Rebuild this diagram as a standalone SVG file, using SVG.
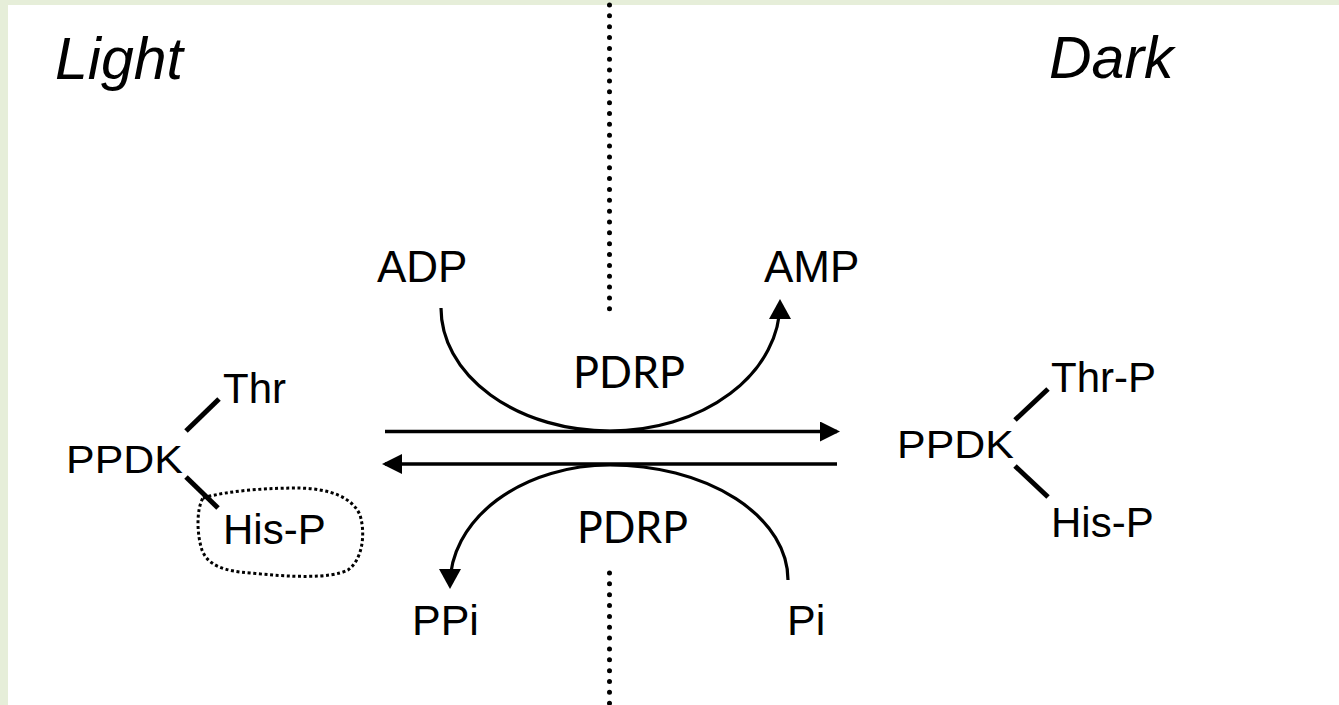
<svg xmlns="http://www.w3.org/2000/svg" width="1339" height="705" viewBox="0 0 1339 705">
<style>
.t{font-family:"Liberation Sans",Arial,sans-serif;fill:#000}
.it{font-family:"Liberation Sans",Arial,sans-serif;font-style:italic;font-size:59px;fill:#000}
.e{font-family:Lato,"Open Sans",sans-serif;font-size:45px;fill:#000}
.bond{stroke:#000;stroke-width:5;fill:none}
.ln{stroke:#000;stroke-width:3.6;fill:none}
.arc{stroke:#000;stroke-width:3.2;fill:none}
.dot{stroke:#000;stroke-width:5;stroke-linecap:round;stroke-dasharray:0 10.85;fill:none}
</style>
<defs>
<marker id="ah" markerUnits="userSpaceOnUse" viewBox="0 0 20 20" markerWidth="20" markerHeight="20" refX="17" refY="10" orient="auto">
<path d="M0,0 L20,10 L0,20 Z" fill="#000"/>
</marker>
<marker id="ahs" markerUnits="userSpaceOnUse" viewBox="0 0 20 22" markerWidth="20" markerHeight="22" refX="16" refY="11" orient="auto">
<path d="M0,0 L20,11 L0,22 Z" fill="#000"/>
</marker>
</defs>
<rect width="1339" height="705" fill="#fff"/>
<rect x="0" y="0" width="1339" height="5" fill="#e6eed9"/>
<rect x="0" y="0" width="8" height="705" fill="#e6eed9"/>

<g id="labels">
<text class="it" x="55" y="79">Light</text>
<text class="it" x="1049" y="78">Dark</text>
</g>

<g id="divider">
<path class="dot" d="M609.5,5 V310"/>
<path class="dot" d="M609.5,573 V705"/>
</g>

<g id="ppdk-light">
<text class="t" font-size="38" transform="translate(66,473) scale(1.13,1)">PPDK</text>
<text class="t" x="223" y="403" font-size="42">Thr</text>
<text class="t" x="223" y="544" font-size="42">His-P</text>
<line class="bond" x1="186" y1="431" x2="219" y2="399"/>
<line class="bond" x1="186" y1="477" x2="218" y2="508"/>
<path d="M203,498 C230,490 270,488 300,488 C330,489 352,497 360,515 C366,535 362,560 348,570 C330,579 290,577 250,573 C225,571 208,566 202,550 C197,535 196,510 203,498 Z" fill="none" stroke="#000" stroke-width="3" stroke-dasharray="3 2.6"/>
</g>

<g id="ppdk-dark">
<text class="t" font-size="38" transform="translate(897,458) scale(1.13,1)">PPDK</text>
<text class="t" x="1051" y="392" font-size="42">Thr-P</text>
<text class="t" x="1051" y="537" font-size="42">His-P</text>
<line class="bond" x1="1015" y1="420" x2="1048" y2="389"/>
<line class="bond" x1="1015" y1="466" x2="1048" y2="497"/>
</g>

<g id="metabolites">
<text class="t" x="377" y="282" font-size="44">ADP</text>
<text class="t" x="764" y="282" font-size="44">AMP</text>
<text class="t" x="412" y="635" font-size="43">PPi</text>
<text class="t" x="787" y="635" font-size="43">Pi</text>
</g>

<g id="enzyme">
<text class="e" x="573" y="388" textLength="112" lengthAdjust="spacingAndGlyphs">PDRP</text>
<text class="e" x="577" y="543" textLength="111" lengthAdjust="spacingAndGlyphs">PDRP</text>
</g>

<g id="connectors">
<line class="ln" x1="385" y1="431.5" x2="837" y2="431.5" marker-end="url(#ah)"/>
<line class="ln" x1="837" y1="464" x2="385" y2="464" marker-end="url(#ah)"/>
<path class="arc" d="M441,308 A169,123 0 0 0 610,431 A170,128 0 0 0 780,303" marker-end="url(#ahs)"/>
<path class="arc" d="M788,580 A178,115 0 0 0 610,465 A160,120 0 0 0 450,585" marker-end="url(#ahs)"/>
</g>
</svg>
